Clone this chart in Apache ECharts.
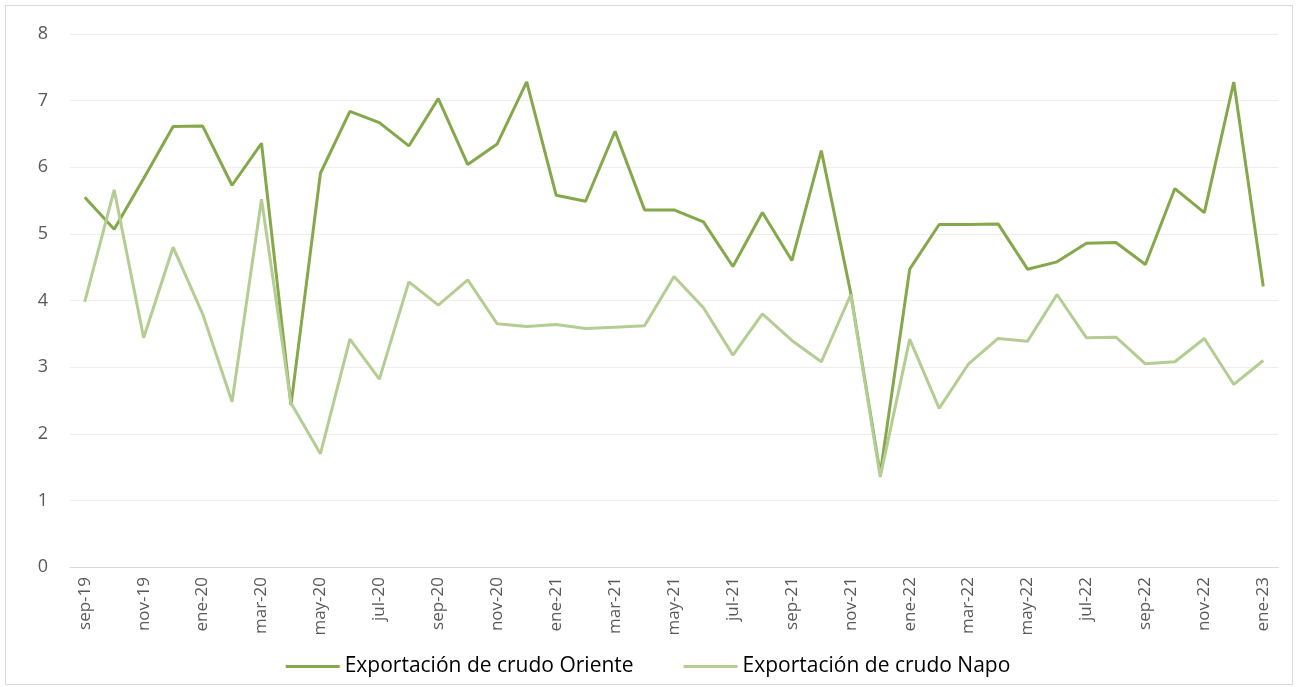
<!DOCTYPE html>
<html>
<head>
<meta charset="utf-8">
<script src="https://cdn.jsdelivr.net/npm/echarts@6/dist/echarts.min.js"></script>
<style>
html,body{margin:0;padding:0;background:#fff;}
#wrap{position:absolute;left:5px;top:5px;width:1288px;height:680px;border:1px solid #d9d9d9;box-sizing:border-box;}
#chart{position:absolute;left:0;top:0;width:1296px;height:687px;}
</style>
</head>
<body>
<div id="wrap"></div>
<div id="chart"></div>
<script>
const categories = ['sep-19','oct-19','nov-19','dic-19','ene-20','feb-20','mar-20','abr-20','may-20','jun-20','jul-20','ago-20',
  'sep-20','oct-20','nov-20','dic-20','ene-21','feb-21','mar-21','abr-21','may-21','jun-21','jul-21','ago-21',
  'sep-21','oct-21','nov-21','dic-21','ene-22','feb-22','mar-22','abr-22','may-22','jun-22','jul-22','ago-22',
  'sep-22','oct-22','nov-22','dic-22','ene-23'];
const oriente = [5.55,5.07,5.83,6.61,6.62,5.73,6.36,2.43,5.91,6.84,6.67,6.32,
  7.03,6.04,6.35,7.28,5.58,5.49,6.54,5.36,5.36,5.18,4.51,5.32,
  4.60,6.25,4.11,1.40,4.47,5.14,5.14,5.15,4.47,4.58,4.86,4.87,
  4.54,5.68,5.32,7.28,4.21];
const napo = [3.98,5.66,3.44,4.80,3.80,2.48,5.52,2.46,1.70,3.42,2.82,4.28,
  3.93,4.31,3.65,3.61,3.64,3.58,3.60,3.62,4.36,3.89,3.18,3.80,
  3.40,3.08,4.09,1.35,3.42,2.38,3.05,3.43,3.39,4.09,3.44,3.45,
  3.05,3.08,3.43,2.74,3.10];
const seriesNames = ['Exportación de crudo Oriente','Exportación de crudo Napo'];
const yTicks = [0,1,2,3,4,5,6,7,8];

const chart = echarts.init(document.getElementById('chart'), null, {renderer:'canvas'});
const font = "'Open Sans', sans-serif";
chart.setOption({
  animation:false,
  backgroundColor:'transparent',
  grid:{left:70,right:18,top:34,bottom:120,containLabel:false},
  legend:{
    bottom:5,left:'center',
    itemWidth:54,itemHeight:3,itemGap:50,
    icon:'rect',
    textStyle:{fontFamily:font,fontSize:21,color:'#000'},
    data:seriesNames
  },
  xAxis:{
    type:'category',
    data:categories,
    boundaryGap:true,
    axisLine:{show:true,lineStyle:{color:'#d9d9d9',width:1}},
    axisTick:{show:false},
    axisLabel:{interval:1,rotate:90,margin:10,fontFamily:font,fontSize:17,color:'#595959'}
  },
  yAxis:{
    type:'value',
    min:yTicks[0],max:yTicks[yTicks.length-1],interval:1,
    axisLine:{show:false},axisTick:{show:false},
    splitLine:{lineStyle:{color:'#eeeeee',width:1}},
    axisLabel:{margin:22,fontFamily:font,fontSize:18,color:'#595959'}
  },
  series:[
    {name:seriesNames[0],type:'line',data:oriente,symbol:'none',smooth:false,
      lineStyle:{color:'#84a84a',width:3},itemStyle:{color:'#84a84a'}},
    {name:seriesNames[1],type:'line',data:napo,symbol:'none',smooth:false,
      lineStyle:{color:'#b4cd92',width:3},itemStyle:{color:'#b4cd92'}}
  ]
});
</script>
</body>
</html>
